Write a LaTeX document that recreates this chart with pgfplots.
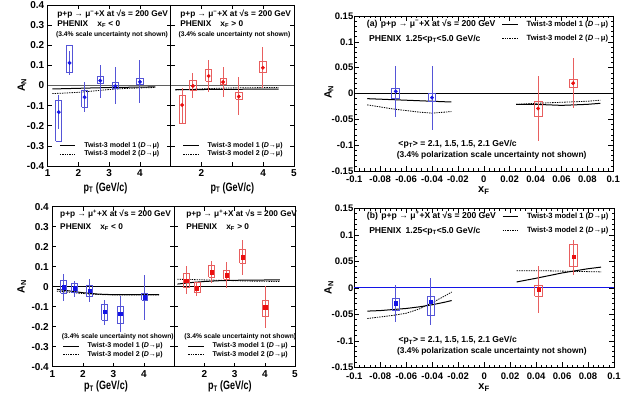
\documentclass[border=0pt]{standalone}
\usepackage{graphicx}
\usepackage{pgfplots}
\pgfplotsset{compat=1.18}
\usepackage{fontspec}
\setmainfont{Liberation Sans}
\definecolor{bluemk}{RGB}{20,20,230}
\definecolor{bluebar}{RGB}{85,85,215}
\definecolor{redmk}{RGB}{235,15,15}
\definecolor{redbar}{RGB}{232,95,95}
\definecolor{zerogray}{RGB}{95,95,95}
\newcommand{\fs}[1]{\fontsize{#1}{#1}\selectfont\bfseries}
\newcommand{\ptlabel}{\scalebox{0.75}[1]{p\textsubscript{T} (GeV/c)}}
\pgfplotsset{
  common/.style={scale only axis, anchor=south west, clip=false,
    unbounded coords=jump,
    axis line style={line width=0.7pt}, tick style={black, line width=0.5pt},
    tick align=inside,
    legend style={draw=none, fill=none, inner sep=0pt, outer sep=0pt,
      cells={anchor=west}},
    legend image code/.code={\draw[##1] (0pt,0pt) -- (15.5pt,0pt); \path (23.5pt,0pt);},
  },
  ptpanel/.style={common, xmin=1, xmax=5, ymin=-0.4, ymax=0.4,
    xtick={1,2,3,4,5},
    ytick={-0.4,-0.3,-0.2,-0.1,0,0.1,0.2,0.3,0.4},
    major tick length=4pt,
    tick label style={font=\fs{10}},
    xlabel style={font=\fs{12}, anchor=center},
    ylabel style={font=\fs{10.5}, anchor=center},
    legend style={font=\fs{7}, row sep=0.8pt, nodes={inner sep=0.5pt}},
  },
  xfpanel/.style={common, xmin=-0.1, xmax=0.1, ymin=-0.15, ymax=0.15,
    scaled ticks=false,
    xtick={-0.1,-0.08,-0.06,-0.04,-0.02,0,0.02,0.04,0.06,0.08,0.1},
    xticklabels={-0.1,-0.08,-0.06,-0.04,-0.02,0,0.02,0.04,0.06,0.08,0.1},
    ytick={-0.15,-0.1,-0.05,0,0.05,0.1,0.15},
    yticklabels={-0.15,-0.1,-0.05,0,0.05,0.1,0.15},
    minor x tick num=4, minor y tick num=4,
    major tick length=5pt, minor tick length=2.5pt,
    tick label style={font=\fs{9.5}},
    yticklabel style={inner xsep=0.8pt},
    xticklabel style={yshift=-1.6pt},
    xlabel style={font=\fs{11}, anchor=center, at={(axis description cs:0.5,-0.128)}},
    ylabel style={font=\fs{10.5}, anchor=center},
    legend style={font=\fs{7.6}, row sep=6pt, nodes={inner sep=0.5pt}},
  },
  model1/.style={black, line width=1pt},
  model2/.style={black, line width=0.8pt, dash pattern=on 1.4pt off 1pt},
  statB/.style={only marks, bluemk, mark=#1, mark size=1.75pt, forget plot,
    error bars/y dir=both, error bars/y explicit, error bars/error mark=none,
    error bars/error bar style={bluebar, line width=0.9pt, solid}},
  statB/.default=*,
  statR/.style={only marks, redmk, mark=#1, mark size=1.75pt, forget plot,
    error bars/y dir=both, error bars/y explicit, error bars/error mark=none,
    error bars/error bar style={redbar, line width=0.9pt, solid}},
  statR/.default=*,
  boxB/.style={bluebar, line width=0.8pt, mark=none, forget plot},
  boxR/.style={redbar, line width=0.8pt, mark=none, forget plot},
}
\begin{document}
\begin{tikzpicture}
\useasboundingbox (0pt,0pt) rectangle (638pt,398pt);

% ===================== top left: mu-, xF<0 =====================
\begin{axis}[ptpanel, at={(47.7pt,232pt)}, width=123pt, height=161pt,
  xticklabels={1,2,3,4,},
  yticklabels={-0.4,-0.3,-0.2,-0.1,0,0.1,0.2,0.3,0.4},
  xlabel={\ptlabel}, ylabel={A\textsubscript{N}},
  xlabel style={at={(axis description cs:0.47,-0.137)}},
  ylabel style={at={(axis description cs:-0.209,0.503)}},
  legend style={at={(axis description cs:0.094,0.1005)}, anchor=west}]
\addplot[zerogray, line width=1.2pt, forget plot] coordinates {(1,0) (5,0)};
\addplot[model1] coordinates {(1.15,-0.017)(1.5,-0.016)(2,-0.014)(2.5,-0.012)(3,-0.010)(3.5,-0.009)(4,-0.008)(4.5,-0.007)};
\addlegendentry{Twist-3 model 1 (\textit{D}→μ)}
\addplot[model2] coordinates {(1.15,-0.040)(1.5,-0.038)(2,-0.034)(2.5,-0.027)(3,-0.020)(3.5,-0.015)(4,-0.012)(4.5,-0.010)};
\addlegendentry{Twist-3 model 2 (\textit{D}→μ)}
\addplot[boxB] table {
x y
1.26 -0.276
1.46 -0.276
1.46 -0.072
1.26 -0.072
1.26 -0.276
nan nan
1.61 0.066
1.81 0.066
1.81 0.197
1.61 0.197
1.61 0.066
nan nan
2.10 -0.107
2.30 -0.107
2.30 -0.026
2.10 -0.026
2.10 -0.107
nan nan
2.61 0.009
2.81 0.009
2.81 0.045
2.61 0.045
2.61 0.009
nan nan
3.10 -0.012
3.30 -0.012
3.30 0.016
3.10 0.016
3.10 -0.012
nan nan
3.90 0.004
4.10 0.004
4.10 0.036
3.90 0.036
3.90 0.004
};
\addplot[statB] table[x=x, y=y, y error plus=ep, y error minus=em] {
x y ep em
1.36 -0.132 0.085 0.086
1.71 0.112 0.061 0.060
2.20 -0.058 0.075 0.074
2.71 0.024 0.076 0.084
3.20 -0.003 0.097 0.089
4.00 0.018 0.107 0.103
};
\node[font=\fs{8.3}, anchor=west] at (axis description cs:0.05,0.944) {p+p → μ\textsuperscript{−}+X at √s = 200 GeV};
\node[font=\fs{8.3}, anchor=west] at (axis description cs:0.05,0.882) {PHENIX\hspace{1.1em}x\textsubscript{F} < 0};
\node[font=\fs{6.7}, anchor=west] at (axis description cs:0.04,0.814) {(3.4\% scale uncertainty not shown)};
\end{axis}

% ===================== top right: mu-, xF>0 =====================
\begin{axis}[ptpanel, at={(170.7pt,232pt)}, width=123.3pt, height=161pt,
  xticklabels={,2,,4,5}, yticklabels={},
  xlabel={\ptlabel},
  xlabel style={at={(axis description cs:0.50,-0.137)}},
  legend style={at={(axis description cs:0.097,0.1005)}, anchor=west}]
\addplot[zerogray, line width=1.2pt, forget plot] coordinates {(1,0) (5,0)};
\addplot[model1] coordinates {(1.15,-0.020)(2,-0.020)(3,-0.019)(4,-0.018)(4.5,-0.018)};
\addlegendentry{Twist-3 model 1 (\textit{D}→μ)}
\addplot[model2] coordinates {(1.15,-0.022)(1.5,-0.020)(2,-0.017)(2.5,-0.014)(3,-0.012)(3.5,-0.011)(4.5,-0.010)};
\addlegendentry{Twist-3 model 2 (\textit{D}→μ)}
\addplot[boxR] table {
x y
1.27 -0.190
1.47 -0.190
1.47 -0.047
1.27 -0.047
1.27 -0.190
nan nan
1.62 -0.022
1.82 -0.022
1.82 0.027
1.62 0.027
1.62 -0.022
nan nan
2.13 0.022
2.33 0.022
2.33 0.080
2.13 0.080
2.13 0.022
nan nan
2.60 0.005
2.80 0.005
2.80 0.036
2.60 0.036
2.60 0.005
nan nan
3.11 -0.069
3.31 -0.069
3.31 -0.036
3.11 -0.036
3.11 -0.069
nan nan
3.89 0.064
4.09 0.064
4.09 0.118
3.89 0.118
3.89 0.064
};
\addplot[statR] table[x=x, y=y, y error plus=ep, y error minus=em] {
x y ep em
1.37 -0.097 0.087 0.088
1.72 -0.002 0.062 0.060
2.23 0.047 0.078 0.079
2.70 0.017 0.077 0.075
3.21 -0.055 0.095 0.090
3.99 0.088 0.102 0.098
};
\node[font=\fs{8.3}, anchor=west] at (axis description cs:0.05,0.944) {p+p → μ\textsuperscript{−}+X at √s = 200 GeV};
\node[font=\fs{8.3}, anchor=west] at (axis description cs:0.05,0.882) {PHENIX\hspace{1.1em}x\textsubscript{F} > 0};
\node[font=\fs{6.7}, anchor=west] at (axis description cs:0.035,0.814) {(3.4\% scale uncertainty not shown)};
\end{axis}

% ===================== bottom left: mu+, xF<0 =====================
\begin{axis}[ptpanel, at={(52.3pt,31.3pt)}, width=122pt, height=160pt,
  xticklabels={1,2,3,4,},
  yticklabels={-0.4,-0.3,-0.2,-0.1,0,0.1,0.2,0.3,0.4},
  xlabel={\ptlabel}, ylabel={A\textsubscript{N}},
  xlabel style={at={(axis description cs:0.44,-0.125)}},
  ylabel style={at={(axis description cs:-0.25,0.5)}},
  legend style={at={(axis description cs:0.085,0.102)}, anchor=west}]
\addplot[black, line width=0.7pt, forget plot] coordinates {(1,0) (5,0)};
\addplot[model1] coordinates {(1.15,-0.013)(1.5,-0.020)(2,-0.030)(2.5,-0.037)(3,-0.040)(3.5,-0.040)(4.5,-0.040)};
\addlegendentry{Twist-3 model 1 (\textit{D}→μ)}
\addplot[model2] coordinates {(1.15,-0.022)(1.5,-0.027)(2,-0.034)(2.5,-0.039)(3,-0.041)(3.5,-0.041)(4.5,-0.041)};
\addlegendentry{Twist-3 model 2 (\textit{D}→μ)}
\addplot[boxB] table {
x y
1.27 -0.033
1.47 -0.033
1.47 0.030
1.27 0.030
1.27 -0.033
nan nan
1.63 -0.030
1.83 -0.030
1.83 0.017
1.63 0.017
1.63 -0.030
nan nan
2.12 -0.047
2.32 -0.047
2.32 0.005
2.12 0.005
2.12 -0.047
nan nan
2.62 -0.167
2.82 -0.167
2.82 -0.088
2.62 -0.088
2.62 -0.167
nan nan
3.13 -0.183
3.33 -0.183
3.33 -0.100
3.13 -0.100
3.13 -0.183
nan nan
3.93 -0.067
4.13 -0.067
4.13 -0.033
3.93 -0.033
3.93 -0.067
};
\addplot[statB=square*] table[x=x, y=y, y error plus=ep, y error minus=em] {
x y ep em
1.37 -0.003 0.068 0.067
1.73 -0.008 0.038 0.042
2.22 -0.020 0.057 0.055
2.72 -0.125 0.060 0.065
3.23 -0.135 0.088 0.090
4.03 -0.053 0.111 0.112
};
\node[font=\fs{8.3}, anchor=west] at (axis description cs:0.036,0.9525) {p+p → μ\textsuperscript{+}+X at √s = 200 GeV};
\node[font=\fs{8.3}, anchor=west] at (axis description cs:0.036,0.871) {PHENIX\hspace{1.1em}x\textsubscript{F} < 0};
\node[font=\fs{6.7}, anchor=west] at (axis description cs:0.05,0.1875) {(3.4\% scale uncertainty not shown)};
\end{axis}

% ===================== bottom right: mu+, xF>0 =====================
\begin{axis}[ptpanel, at={(174.3pt,31.3pt)}, width=120.7pt, height=160pt,
  xticklabels={,2,3,4,5}, yticklabels={},
  xlabel={\ptlabel},
  xlabel style={at={(axis description cs:0.46,-0.125)}},
  legend style={at={(axis description cs:0.111,0.102)}, anchor=west}]
\addplot[black, line width=0.7pt, forget plot] coordinates {(1,0) (5,0)};
\addplot[model1] coordinates {(1.1,0.013)(1.5,0.020)(2,0.026)(2.5,0.030)(3,0.032)(3.5,0.033)(4.5,0.034)};
\addlegendentry{Twist-3 model 1 (\textit{D}→μ)}
\addplot[model2] coordinates {(1.1,0.037)(1.5,0.036)(2,0.034)(2.5,0.032)(3,0.030)(3.5,0.028)(4.5,0.026)};
\addlegendentry{Twist-3 model 2 (\textit{D}→μ)}
\addplot[boxR] table {
x y
1.29 -0.003
1.49 -0.003
1.49 0.067
1.29 0.067
1.29 -0.003
nan nan
1.65 -0.030
1.85 -0.030
1.85 0.020
1.65 0.020
1.65 -0.030
nan nan
2.14 0.047
2.34 0.047
2.34 0.108
2.14 0.108
2.14 0.047
nan nan
2.64 0.037
2.84 0.037
2.84 0.083
2.64 0.083
2.64 0.037
nan nan
3.17 0.117
3.37 0.117
3.37 0.187
3.17 0.187
3.17 0.117
nan nan
3.92 -0.147
4.12 -0.147
4.12 -0.067
3.92 -0.067
3.92 -0.147
};
\addplot[statR=square*] table[x=x, y=y, y error plus=ep, y error minus=em] {
x y ep em
1.39 0.031 0.072 0.068
1.75 -0.008 0.033 0.039
2.24 0.073 0.057 0.056
2.74 0.057 0.065 0.065
3.27 0.148 0.085 0.090
4.02 -0.103 0.106 0.105
};
\node[font=\fs{8.3}, anchor=west] at (axis description cs:0.07,0.9525) {p+p → μ\textsuperscript{+}+X at √s = 200 GeV};
\node[font=\fs{8.3}, anchor=west] at (axis description cs:0.07,0.871) {PHENIX\hspace{1.1em}x\textsubscript{F} > 0};
\node[font=\fs{6.7}, anchor=west] at (axis description cs:0.055,0.1875) {(3.4\% scale uncertainty not shown)};
\end{axis}

% ===================== (a) =====================
\begin{axis}[xfpanel, at={(354.3pt,227pt)}, width=259pt, height=155pt,
  xlabel={x\textsubscript{F}}, ylabel={A\textsubscript{N}},
  ylabel style={at={(axis description cs:-0.098,0.51)}},
  legend style={at={(axis description cs:0.569,0.903)}, anchor=west}]
\addplot[black, line width=0.7pt, forget plot] coordinates {(-0.1,0) (0.1,0)};
\addplot[model1] coordinates {(-0.09,-0.010)(-0.08,-0.011)(-0.07,-0.012)(-0.06,-0.013)(-0.05,-0.014)(-0.04,-0.015)(-0.03,-0.016)(-0.025,-0.016)};
\addlegendentry{Twist-3 model 1 (\textit{D}→μ)}
\addplot[model2] coordinates {(-0.09,-0.022)(-0.08,-0.026)(-0.07,-0.030)(-0.06,-0.033)(-0.05,-0.036)(-0.04,-0.038)(-0.03,-0.036)(-0.025,-0.035)};
\addlegendentry{Twist-3 model 2 (\textit{D}→μ)}
\addplot[model1, forget plot] coordinates {(0.025,-0.021)(0.04,-0.021)(0.05,-0.022)(0.06,-0.023)(0.07,-0.022)(0.08,-0.021)(0.09,-0.019)};
\addplot[model2, forget plot] coordinates {(0.025,-0.021)(0.04,-0.019)(0.05,-0.018)(0.06,-0.017)(0.07,-0.016)(0.08,-0.015)(0.09,-0.013)};
\addplot[boxB] table {
x y
-0.071 -0.010
-0.065 -0.010
-0.065 0.010
-0.071 0.010
-0.071 -0.010
nan nan
-0.043 -0.016
-0.037 -0.016
-0.037 0.000
-0.043 0.000
-0.043 -0.016
};
\addplot[boxR] table {
x y
0.039 -0.044
0.045 -0.044
0.045 -0.016
0.039 -0.016
0.039 -0.044
nan nan
0.066 0.012
0.072 0.012
0.072 0.028
0.066 0.028
0.066 0.012
};
\addplot[statB] table[x=x, y=y, y error plus=ep, y error minus=em] {
x y ep em
-0.068 0.004 0.049 0.049
-0.040 -0.008 0.061 0.062
};
\addplot[statR] table[x=x, y=y, y error plus=ep, y error minus=em] {
x y ep em
0.042 -0.029 0.063 0.062
0.069 0.020 0.048 0.049
};
\node[font=\fs{8.6}, anchor=west] at (axis description cs:0.035,0.947) {(a)\hspace{0.4em}p+p → μ\textsuperscript{−}+X at √s = 200 GeV};
\node[font=\fs{8.6}, anchor=west] at (axis description cs:0.044,0.852) {PHENIX\hspace{0.5em}1.25<p\textsubscript{T}<5.0 GeV/c};
\node[font=\fs{8.6}, anchor=west] at (axis description cs:0.157,0.171) {<p\textsubscript{T}> = 2.1, 1.5, 1.5, 2.1 GeV/c};
\node[font=\fs{8.4}, anchor=west] at (axis description cs:0.151,0.098) {(3.4\% polarization scale uncertainty not shown)};
\end{axis}

% ===================== (b) =====================
\begin{axis}[xfpanel, at={(354.3pt,30.7pt)}, width=259.7pt, height=159pt,
  xlabel={x\textsubscript{F}}, ylabel={A\textsubscript{N}},
  ylabel style={at={(axis description cs:-0.098,0.5)}},
  legend style={at={(axis description cs:0.569,0.9055)}, anchor=west}]
\addplot[bluemk, line width=0.7pt, forget plot] coordinates {(-0.1,0) (0.1,0)};
\addplot[model1] coordinates {(-0.09,-0.044)(-0.08,-0.043)(-0.07,-0.041)(-0.06,-0.039)(-0.05,-0.036)(-0.04,-0.032)(-0.03,-0.027)(-0.025,-0.024)};
\addlegendentry{Twist-3 model 1 (\textit{D}→μ)}
\addplot[model2] coordinates {(-0.09,-0.058)(-0.08,-0.055)(-0.07,-0.052)(-0.06,-0.048)(-0.05,-0.040)(-0.04,-0.028)(-0.03,-0.015)(-0.025,-0.008)};
\addlegendentry{Twist-3 model 2 (\textit{D}→μ)}
\addplot[model1, forget plot] coordinates {(0.025,0.011)(0.04,0.018)(0.05,0.023)(0.06,0.028)(0.07,0.032)(0.08,0.036)(0.09,0.039)};
\addplot[model2, forget plot] coordinates {(0.025,0.032)(0.05,0.032)(0.07,0.031)(0.09,0.030)};
\addplot[boxB] table {
x y
-0.071 -0.043
-0.065 -0.043
-0.065 -0.020
-0.071 -0.020
-0.071 -0.043
nan nan
-0.044 -0.052
-0.038 -0.052
-0.038 -0.017
-0.044 -0.017
-0.044 -0.052
};
\addplot[boxR] table {
x y
0.039 -0.016
0.045 -0.016
0.045 0.004
0.039 0.004
0.039 -0.016
nan nan
0.066 0.040
0.072 0.040
0.072 0.081
0.066 0.081
0.066 0.040
};
\addplot[statB=square*] table[x=x, y=y, y error plus=ep, y error minus=em] {
x y ep em
-0.068 -0.029 0.035 0.035
-0.041 -0.026 0.044 0.044
};
\addplot[statR=square*] table[x=x, y=y, y error plus=ep, y error minus=em] {
x y ep em
0.042 -0.003 0.045 0.045
0.069 0.059 0.031 0.035
};
\node[font=\fs{8.6}, anchor=west] at (axis description cs:0.035,0.953) {(b)\hspace{0.4em}p+p → μ\textsuperscript{+}+X at √s = 200 GeV};
\node[font=\fs{8.6}, anchor=west] at (axis description cs:0.044,0.853) {PHENIX\hspace{0.5em}1.25<p\textsubscript{T}<5.0 GeV/c};
\node[font=\fs{8.6}, anchor=west] at (axis description cs:0.157,0.167) {<p\textsubscript{T}> = 2.1, 1.5, 1.5, 2.1 GeV/c};
\node[font=\fs{8.4}, anchor=west] at (axis description cs:0.151,0.098) {(3.4\% polarization scale uncertainty not shown)};
\end{axis}
\end{tikzpicture}
\end{document}
